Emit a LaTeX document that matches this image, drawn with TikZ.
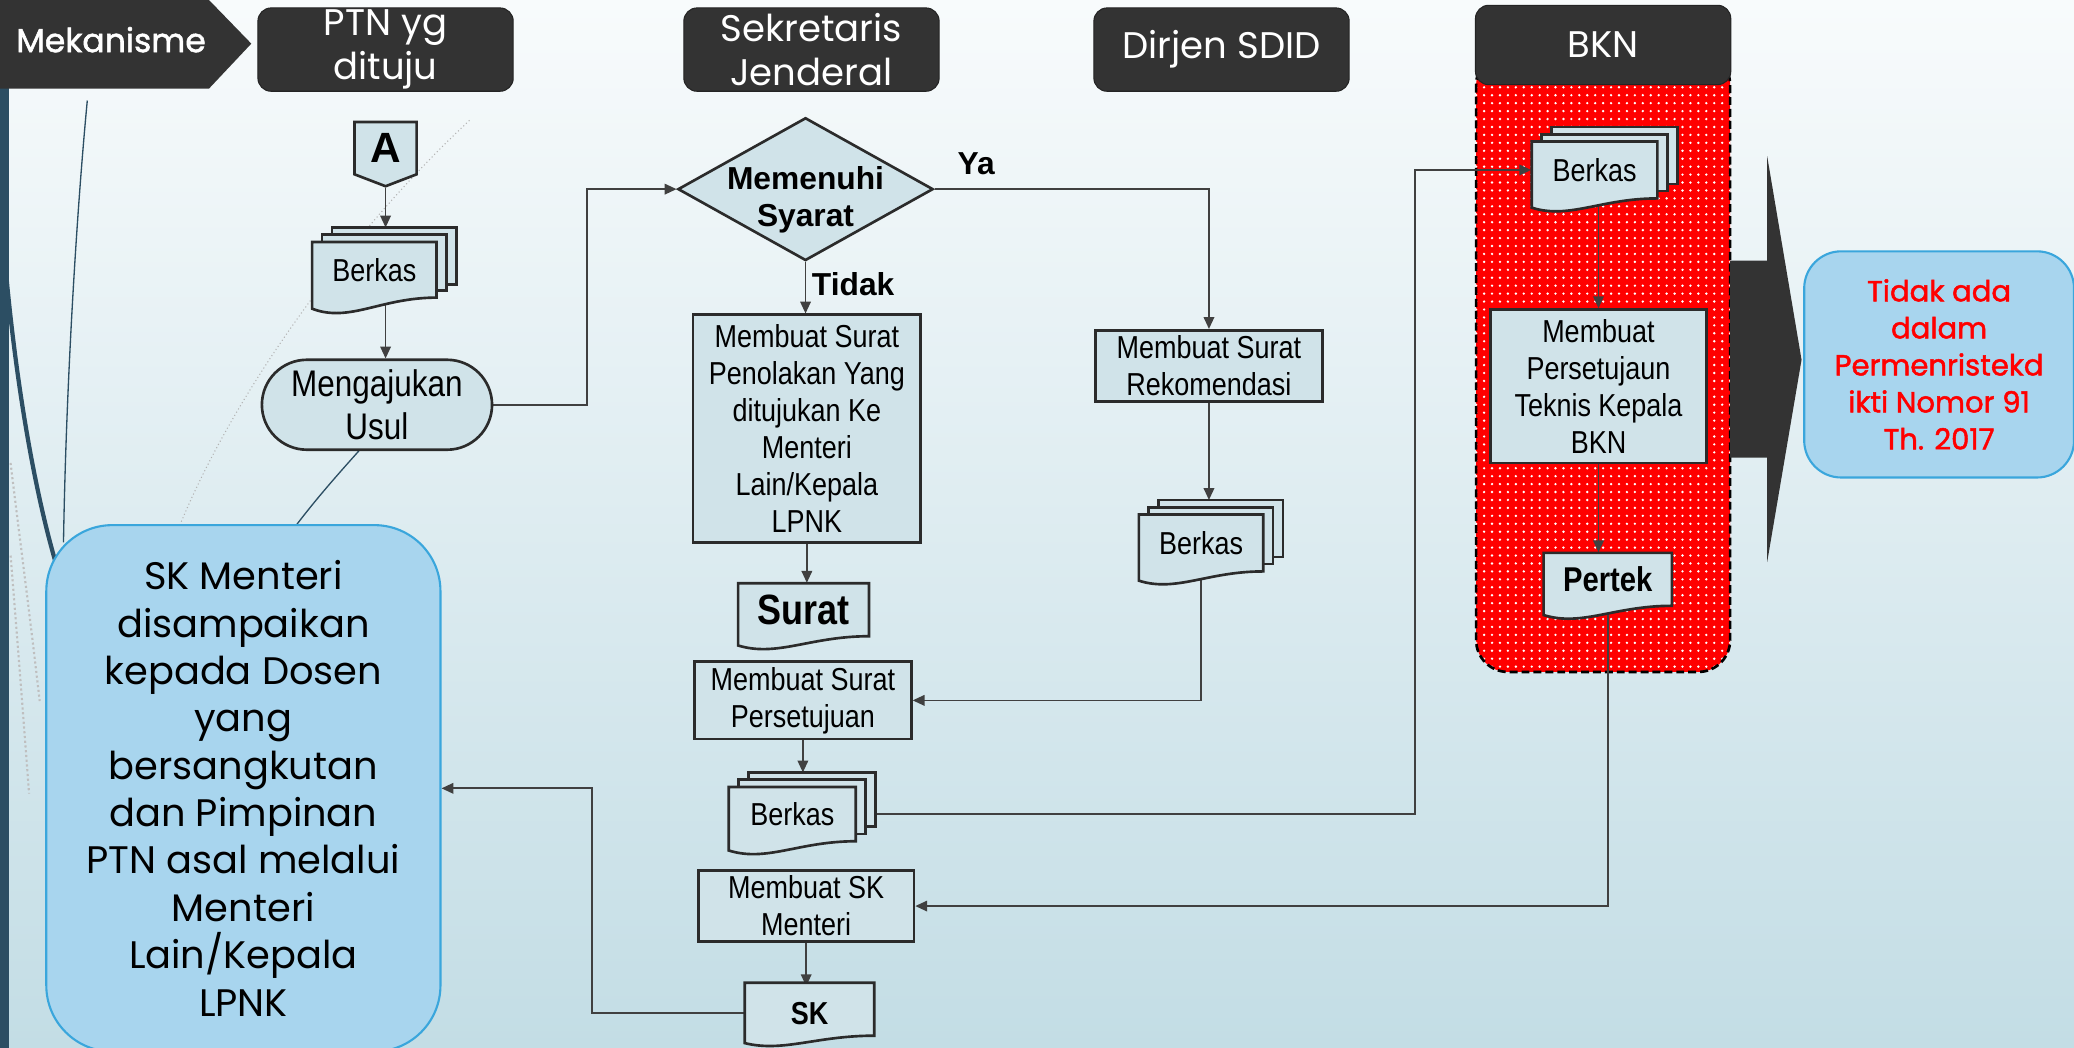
\documentclass[tikz,border=0pt]{standalone}
\usepackage{fontspec}
\setmainfont{Liberation Sans}
\newfontfamily\narrowfont[FakeStretch=0.85]{Liberation Sans}
\newfontfamily\gothfont{Poppins}
\newfontfamily\gothmedium[FakeBold=1.6]{Poppins}
\usetikzlibrary{positioning}
\usetikzlibrary{shapes}
\usetikzlibrary{patterns}
\usetikzlibrary{arrows.meta}
\definecolor{bgtop}{RGB}{248,251,252}
\definecolor{bgbottom}{RGB}{195,221,229}
\definecolor{barblue}{RGB}{44,78,99}
\definecolor{procfill}{RGB}{208,227,233}
\definecolor{boxline}{RGB}{43,43,43}
\definecolor{linegray}{RGB}{64,64,64}
\definecolor{headgray}{RGB}{51,51,51}
\definecolor{notefill}{RGB}{168,213,238}
\definecolor{noteline}{RGB}{58,166,220}
\pgfdeclarelayer{bgpaper}
\pgfdeclarelayer{connectors}
\pgfsetlayers{bgpaper,connectors,main}

\begin{document}
\begin{tikzpicture}[x=0.5pt,y=0.5pt,yscale=-1,xscale=1,
  proc/.style={draw=boxline, fill=procfill, line width=1pt, align=center, inner sep=2pt, font=\narrowfont\fontsize{12}{14}\selectfont},
  docshape/.style={draw=boxline, fill=procfill, line width=1pt},
  doctext/.style={inner sep=0pt, align=center, font=\narrowfont\fontsize{12}{14}\selectfont},
  flowline/.style={draw=linegray, line width=0.65pt, -{Triangle[length=4.5pt,width=4pt]}},
  lanehead/.style={fill=headgray, draw=headgray!70!black, rounded corners=5pt, text=white, align=center, minimum width=96.5pt, minimum height=31.5pt, inner sep=0pt, font=\gothfont\fontsize{14}{16.5}\selectfont},
  note/.style={fill=notefill, draw=noteline, line width=0.8pt, align=center, inner sep=0pt},
  flowlabel/.style={inner sep=0pt, font=\bfseries\fontsize{12}{14}\selectfont}]

\useasboundingbox (0,0) rectangle (1568,792);

\begin{pgfonlayer}{bgpaper}
%Shape: Background
\shade[top color=bgtop, bottom color=bgbottom] (0,0) rectangle (1568,792);
%Shape: Left Bar
\fill[barblue] (0,0) rectangle (7,792);
%Curve Lines
\draw[barblue, line width=0.5pt] (66,76) .. controls (58,160) and (50,290) .. (48,410);
\draw[barblue, line width=1.6pt] (4,200) .. controls (12,290) and (26,370) .. (42,425);
\draw[barblue, line width=0.5pt] (273,339) .. controls (256,358) and (240,376) .. (224,397);
\draw[gray!60, line width=0.4pt, densely dotted] (355,91) .. controls (270,170) and (180,290) .. (136,397);
\draw[gray!50, line width=0.8pt, densely dotted] (8,350) .. controls (14,400) and (22,460) .. (30,530);
\draw[gray!50, line width=0.8pt, densely dotted] (8,420) .. controls (12,470) and (16,520) .. (22,600);
%Shape: BKN Lane
\fill[red, rounded corners=12pt] (1116,40) rectangle (1308,508);
\fill[pattern=dots, pattern color=white, rounded corners=12pt] (1116,40) rectangle (1308,508);
\draw[black, line width=1pt, dash pattern=on 3pt off 1.5pt, rounded corners=12pt] (1116,40) rectangle (1308,508);
\end{pgfonlayer}

%Shape: Mekanisme
\fill[headgray] (0,0) -- (158,0) -- (190,33) -- (158,67) -- (0,67) -- cycle;
% Text Node
\node[text=white, inner sep=0pt, font=\gothmedium\fontsize{12.5}{15}\selectfont] (mekanisme) at (84,30) {Mekanisme};

% Lane Heads
\node[lanehead] (hptn) at (291.5,37.5) {PTN yg\\dituju};
\node[lanehead] (hsekjen) at (613.5,37.5) {Sekretaris\\Jenderal};
\node[lanehead] (hdirjen) at (923.5,37.5) {Dirjen SDID};
\node[lanehead, minimum height=30pt] (hbkn) at (1212,34) {BKN};

%Shape: Off Page A
\node[signal, signal to=south, signal pointer angle=138, draw=boxline, fill=procfill, line width=1pt, minimum width=23.5pt, minimum height=22pt, inner sep=0pt, font=\bfseries\fontsize{16}{18}\selectfont] (conA) at (291.5,112) {A};

%Shape: Multidocument
\draw[docshape] (251,172) rectangle (345,215);
\draw[docshape] (243.5,177.5) rectangle (337.5,219.5);
\draw[docshape] (236,183) -- (330,183) -- (330,225) .. controls (287.7,225) and (264.2,244.2) .. (236,233.4) -- cycle;
\node[doctext, minimum width=47pt, minimum height=21pt] (berkasptn) at (283,204) {Berkas};
\coordinate (ptntop) at (291.5,172);

%Shape: Terminator
\node[proc, rounded corners=17pt, minimum width=87pt, minimum height=34pt, font=\narrowfont\fontsize{14}{16}\selectfont] (usul) at (285,306) {Mengajukan\\Usul};

%Shape: Decision
\node[diamond, draw=boxline, fill=procfill, line width=1pt, minimum width=96.5pt, minimum height=54pt, inner sep=0pt] (syarat) at (609,143) {};
\node[inner sep=0pt, align=center, font=\bfseries\fontsize{12}{14}\selectfont] (syarattxt) at (609,151) {Memenuhi\\Syarat};

% Text Node
\node[flowlabel] (lblya) at (738,124) {Ya};
% Text Node
\node[flowlabel] (lbltidak) at (645,215) {Tidak};

%Shape: Process
\node[proc, minimum width=86pt, minimum height=86pt] (penolakan) at (610,324) {Membuat Surat\\Penolakan Yang\\ditujukan Ke\\Menteri\\Lain/Kepala\\LPNK};

%Shape: Document
\draw[docshape] (558,441) -- (657,441) -- (657,481) .. controls (612.45,481) and (587.7,497) .. (558,488) -- cycle;
\node[doctext, minimum width=49.5pt, minimum height=20pt, font=\narrowfont\bfseries\fontsize{16}{18}\selectfont] (surat) at (607.5,461) {Surat};

%Shape: Process
\node[proc, minimum width=82pt, minimum height=26.5pt] (setuju) at (607,529.5) {Membuat Surat\\Persetujuan};

%Shape: Multidocument
\draw[docshape] (566,584) rectangle (662,625);
\draw[docshape] (558.5,589.5) rectangle (654.5,630.5);
\draw[docshape] (551,595) -- (647,595) -- (647,636) .. controls (603.8,636) and (579.8,652) .. (551,643) -- cycle;
\node[doctext, minimum width=48pt, minimum height=20.5pt] (berkassekjen) at (599,615.5) {Berkas};
\coordinate (sekjentop) at (607,584);

%Shape: Process
\node[proc, minimum width=81.5pt, minimum height=27pt] (skmenteri) at (609.5,685) {Membuat SK\\Menteri};

%Shape: Document
\draw[docshape] (563,743) -- (661,743) -- (661,783) .. controls (616.9,783) and (592.4,795.8) .. (563,788.6) -- cycle;
\node[doctext, minimum width=49pt, minimum height=20pt, font=\narrowfont\bfseries\fontsize{12}{14}\selectfont] (sk) at (612,766) {SK};

%Shape: Process
\node[proc, minimum width=86pt, minimum height=26.5pt] (rekom) at (914,276.5) {Membuat Surat\\Rekomendasi};

%Shape: Multidocument
\draw[docshape] (876,378) rectangle (970,421);
\draw[docshape] (868.5,383.5) rectangle (962.5,426.5);
\draw[docshape] (861,389) -- (955,389) -- (955,432) .. controls (912.7,432) and (889.2,448) .. (861,439) -- cycle;
\node[doctext, minimum width=47pt, minimum height=21.5pt] (berkasdirjen) at (908,410.5) {Berkas};
\coordinate (dirjentop) at (914,378);

%Shape: Multidocument
\draw[docshape] (1173,96) rectangle (1268,139);
\draw[docshape] (1165.5,101.5) rectangle (1260.5,144.5);
\draw[docshape] (1158,107) -- (1253,107) -- (1253,150) .. controls (1210.25,150) and (1186.5,166) .. (1158,157) -- cycle;
\node[doctext, minimum width=47.5pt, minimum height=21.5pt] (berkasbkn) at (1205.5,128.5) {Berkas};

%Shape: Process
\node[proc, minimum width=81.5pt, minimum height=58pt] (teknis) at (1208.5,292) {Membuat\\Persetujaun\\Teknis Kepala\\BKN};

%Shape: Document
\draw[docshape] (1167,418) -- (1264,418) -- (1264,458) .. controls (1220.35,458) and (1196.1,474) .. (1167,465) -- cycle;
\node[doctext, minimum width=48.5pt, minimum height=20pt, font=\narrowfont\bfseries\fontsize{13}{15}\selectfont] (pertek) at (1215.5,438) {Pertek};

%Shape: Right Arrow
\fill[headgray] (1308,197) -- (1336,197) -- (1336,118) -- (1362,272) -- (1336,425) -- (1336,346) -- (1308,346) -- cycle;

%Shape: Rounded Rectangle
\node[note, rounded corners=14pt, minimum width=102pt, minimum height=85.5pt, text=red, font=\gothmedium\fontsize{11}{14}\selectfont] (catatan) at (1466,275.5) {Tidak ada\\dalam\\Permenristekd\\ikti Nomor 91\\Th. 2017};

%Shape: Rounded Rectangle
\node[note, rounded corners=25pt, minimum width=149pt, minimum height=199pt, font=\gothfont\fontsize{14.5}{17.9}\selectfont] (hasil) at (184,596) {SK Menteri\\disampaikan\\kepada Dosen\\yang\\bersangkutan\\dan Pimpinan\\PTN asal melalui\\Menteri\\Lain/Kepala\\LPNK};

\begin{pgfonlayer}{connectors}
\draw[flowline] (conA.south) -- (ptntop);
\draw[flowline] (ptntop |- berkasptn.center) -- (ptntop |- usul.north);
\draw[flowline] (usul.east) -- ++(71,0) |- (syarat.west);
\draw[flowline] (syarat.east) -| (rekom.north);
\draw[flowline] (syarat.south) -- (syarat.south |- penolakan.north);
\draw[flowline] (penolakan.south) -- (penolakan.south |- surat.north);
\draw[flowline] (rekom.south) -- (dirjentop);
\draw[flowline] (berkasdirjen.center) |- (setuju.east);
\draw[flowline] (setuju.south) -- (sekjentop);
\draw[flowline] (berkassekjen.center) -- ++(471,0) |- (berkasbkn.west);
\draw[flowline] (teknis.north |- berkasbkn.center) -- (teknis.north);
\draw[flowline] (teknis.south) -- (teknis.south |- pertek.north);
\draw[flowline] (pertek.center) |- (skmenteri.east);
\draw[flowline] (skmenteri.south) -- (skmenteri.south |- sk.north);
\draw[flowline] (sk.west) -- ++(-115,0) |- (hasil.east);
\end{pgfonlayer}

\end{tikzpicture}
\end{document}
